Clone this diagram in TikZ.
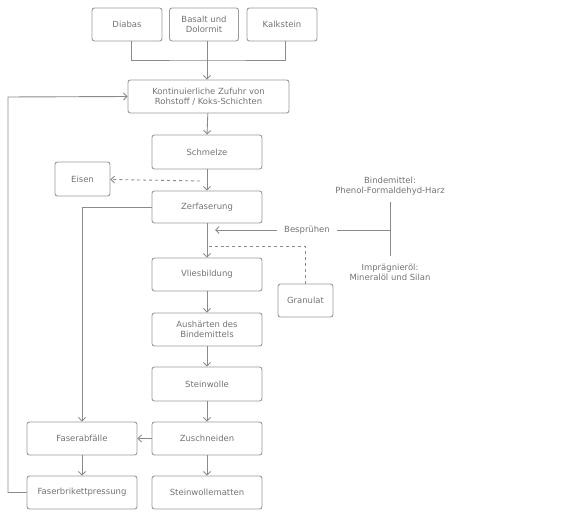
\documentclass[tikz,border=0pt]{standalone}
\usepackage{fontspec}
\setmainfont{DejaVu Sans}
\usepackage{tikz}
\usetikzlibrary{arrows.meta}
\definecolor{rahmen}{HTML}{999999}
\definecolor{linie}{HTML}{8A8A8A}
\definecolor{schrift}{HTML}{737373}
\tikzset{
	kasten/.style={draw=rahmen, line width=0.9bp, rounded corners=2.5bp, text=schrift, align=center, inner sep=1bp, minimum width=110bp, minimum height=33bp},
	hinweis/.style={text=schrift, align=center, inner sep=1bp},
	strich/.style={draw=linie, line width=0.9bp},
	>={Straight Barb[length=3.5bp,width=7bp]}
}

\begin{document}
\begin{tikzpicture}[x=1bp, y=-1bp, font=\fontsize{8.5}{10.2}\selectfont]
			\useasboundingbox (0,0) rectangle (580,516);
			% Rohstoffe
			\node[kasten, minimum width=70bp] (diabas) at (127,24.5) {Diabas};
			\node[kasten, minimum width=69bp] (basalt) at (204,24.5) {Basalt und\\Dolormit};
			\node[kasten, minimum width=70bp] (kalk) at (282,24.5) {Kalkstein};
			% Hauptstrang
			\node[kasten, minimum width=161bp] (zufuhr) at (208.5,96.5) {Kontinuierliche Zufuhr von\\Rohstoff / Koks-Schichten};
			\node[kasten, minimum height=34bp] (schmelze) at (207,152) {Schmelze};
			\node[kasten, minimum width=55bp, minimum height=34bp] (eisen) at (82.5,179) {Eisen};
			\node[kasten, minimum height=32bp] (zerfaserung) at (207,207) {Zerfaserung};
			\node[kasten] (vlies) at (207,274.5) {Vliesbildung};
			\node[kasten, minimum width=55bp] (granulat) at (305.5,300.5) {Granulat};
			\node[kasten] (aushaerten) at (207,329.5) {Aushärten des\\Bindemittels};
			\node[kasten, minimum height=34bp] (steinwolle) at (207,384) {Steinwolle};
			\node[kasten] (zuschneiden) at (207,438.5) {Zuschneiden};
			\node[kasten] (matten) at (207,492.5) {Steinwollematten};
			\node[kasten] (abfall) at (82,438.5) {Faserabfälle};
			\node[kasten] (brikett) at (82,492.5) {Faserbrikettpressung};
			% Zusatzstoffe
			\node[hinweis] (binder) at (390,186) {Bindemittel:\\Phenol-Formaldehyd-Harz};
			\node[hinweis] (oel) at (390,272) {Imprägnieröl:\\Mineralöl und Silan};
			\node[hinweis, outer xsep=6bp] (spray) at (307,230) {Besprühen};
			\coordinate (sammel) at (207,60);
			\coordinate (abstich) at (200,181);
			\coordinate (spritz) at (215,230);
			\coordinate (gabel) at (390,230);
			\coordinate (einlauf) at (207,246);
			\coordinate (rueck) at (8,97);

			\draw[strich] ([xshift=4.5bp]diabas.south) |- (sammel) -| ([xshift=3bp]kalk.south);
			\draw[strich, ->] ([xshift=3bp]basalt.south) -- ([xshift=3bp]basalt.south |- zufuhr.north);
			\path[strich, ->]
			(zufuhr) edge ([xshift=-1.5bp]zufuhr.south |- schmelze.north)
			(schmelze) edge (zerfaserung)
			(zerfaserung) edge (vlies)
			(vlies) edge (aushaerten)
			(aushaerten) edge (steinwolle)
			(steinwolle) edge (zuschneiden)
			(zuschneiden) edge (matten)
			(zuschneiden) edge (abfall)
			(abfall) edge (brikett);
			\draw[strich, ->] (spray.west) -- (spritz);
			\draw[strich, ->, dashed] (abstich) -- (eisen);
			\draw[strich, dashed] (granulat) |- (einlauf);
			\draw[strich, ->] (zerfaserung.west) -| (abfall.north);
			\draw[strich, ->] (brikett.west) -| (rueck) -- (zufuhr.west);
			\draw[strich] (spray.east) -- (gabel);
			\draw[strich] ([yshift=-6bp]binder.south) -- ([yshift=6bp]oel.north);
		\end{tikzpicture}
\end{document}
